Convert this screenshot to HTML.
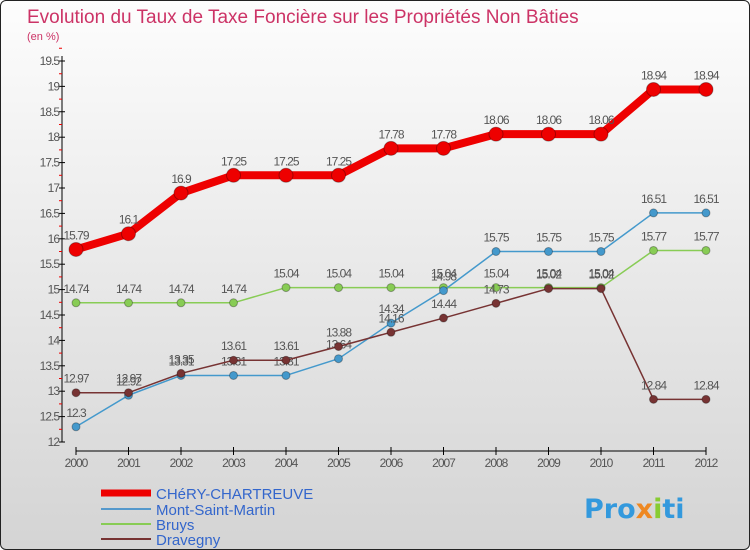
<!DOCTYPE html>
<html><head><meta charset="utf-8"><style>
body{margin:0;}
#c{position:relative;width:748px;height:548px;border:1px solid #222;border-radius:6px;overflow:hidden;background:linear-gradient(#fdfdfd,#d4d4d4);font-family:"Liberation Sans",sans-serif;}
</style></head><body>
<div id="c">
<svg id="s" width="748" height="548">
<text x="26" y="22" font-size="19" fill="#cc3366">Evolution du Taux de Taxe Foncière sur les Propriétés Non Bâties</text>
<text x="26" y="39" font-size="11" fill="#cc3366">(en %)</text>
<g id="ax"></g><g id="ser"></g>
<g>
<line x1="100" y1="492" x2="150" y2="492" stroke="#ee0000" stroke-width="7"/>
<text x="155" y="498" font-size="15" fill="#3366cc">CHéRY-CHARTREUVE</text>
<line x1="100" y1="508" x2="150" y2="508" stroke="#5599cc" stroke-width="2"/>
<text x="155" y="514" font-size="15" fill="#3366cc">Mont-Saint-Martin</text>
<line x1="100" y1="523" x2="150" y2="523" stroke="#88cc55" stroke-width="2"/>
<text x="155" y="529" font-size="15" fill="#3366cc">Bruys</text>
<line x1="100" y1="538" x2="150" y2="538" stroke="#773333" stroke-width="2"/>
<text x="155" y="544" font-size="15" fill="#3366cc">Dravegny</text>
</g>
<text x="583" y="517" font-size="27" font-weight="bold" fill="#3399dd" font-family="DejaVu Sans, sans-serif">Pro<tspan fill="#ee8822">x</tspan><tspan fill="#88cc33">i</tspan>ti</text>
</svg></div>
<script>
const years=[2000,2001,2002,2003,2004,2005,2006,2007,2008,2009,2010,2011,2012];
const yTicks=[12,12.5,13,13.5,14,14.5,15,15.5,16,16.5,17,17.5,18,18.5,19,19.5];
const chery=[15.79,16.1,16.9,17.25,17.25,17.25,17.78,17.78,18.06,18.06,18.06,18.94,18.94];
const mont=[12.3,12.92,13.31,13.31,13.31,13.64,14.34,14.98,15.75,15.75,15.75,16.51,16.51];
const bruys=[14.74,14.74,14.74,14.74,15.04,15.04,15.04,15.04,15.04,15.04,15.04,15.77,15.77];
const drav=[12.97,12.97,13.35,13.61,13.61,13.88,14.16,14.44,14.73,15.02,15.02,12.84,12.84];
const NS="http://www.w3.org/2000/svg";
function X(i){return 75+i*52.5;}
function Y(v){return 441-(v-12)*50.8;}
function mk(t,a,p){const e=document.createElementNS(NS,t);for(const k in a)e.setAttribute(k,a[k]);p.appendChild(e);return e;}
const ax=document.getElementById('ax');
let l=mk('line',{x1:61,y1:55,x2:61,y2:441,stroke:'#000'},ax);


l=mk('line',{x1:75,y1:450,x2:705,y2:450,stroke:'#000'},ax);


yTicks.forEach(v=>{
 mk('line',{x1:58,x2:64,y1:Y(v),y2:Y(v),stroke:'#000'},ax);
 mk('line',{x1:58,x2:61,y1:Y(v+0.25),y2:Y(v+0.25),stroke:'#e00'},ax);
 const t=mk('text',{x:58,y:Y(v)+4,'font-size':12,'text-anchor':'end',fill:'#555','letter-spacing':'-1'},ax);
 t.textContent=v;
 
 
});
years.forEach((yr,i)=>{
 mk('line',{x1:X(i),x2:X(i),y1:446,y2:454,stroke:'#000'},ax);
 const t=mk('text',{x:X(i),y:466,'font-size':12,'text-anchor':'middle',fill:'#555','letter-spacing':'-1'},ax);
 t.textContent=yr;
 
 
});
const ser=document.getElementById('ser');
function draw(d,col,w,r,name){
 const g=mk('g',{},ser);
 
 
 mk('polyline',{points:d.map((v,i)=>X(i)+','+Y(v)).join(' '),fill:'none',stroke:col,'stroke-width':w,'stroke-linejoin':'round'},g);
 d.forEach((v,i)=>{
  const c=mk('circle',{cx:X(i),cy:Y(v),r:r,fill:col,stroke:'rgba(0,0,0,0.3)'},g);
  
  
  const t=mk('text',{x:X(i),y:Y(v)-10,'font-size':12,'text-anchor':'middle',fill:'#555','letter-spacing':'-1'},g);
  t.textContent=v;
 });
}
draw(bruys,'#88cc55',1.5,4,'series-bruys');
draw(mont,'#4499cc',1.5,4,'series-mont-saint-martin');
draw(drav,'#773333',1.5,4,'series-dravegny');
draw(chery,'#ee0000',8,7,'series-chery-chartreuve');
</script>
</body></html>
